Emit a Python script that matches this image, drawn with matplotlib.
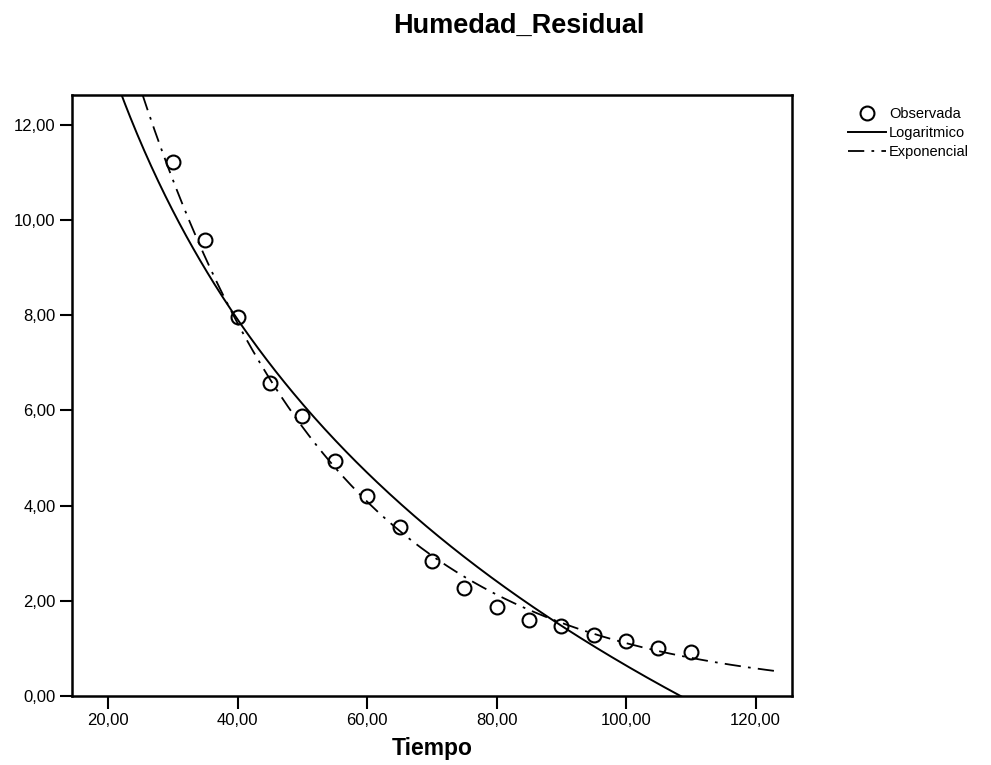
import numpy as np
import matplotlib
matplotlib.use("Agg")
import matplotlib.pyplot as plt
from matplotlib.ticker import FuncFormatter

plt.rcParams["font.family"] = ["Liberation Sans", "DejaVu Sans"]

tiempo = [30, 35, 40, 45, 50, 55, 60, 65, 70, 75, 80, 85, 90, 95, 100, 105, 110]
humedad = [11.22, 9.58, 7.96, 6.57, 5.87, 4.93, 4.19, 3.54, 2.84, 2.27, 1.87,
           1.60, 1.47, 1.28, 1.16, 1.01, 0.93]

x_ticks = [20, 40, 60, 80, 100, 120]
y_ticks = [0, 2, 4, 6, 8, 10, 12]

x = np.array(tiempo, dtype=float)
y = np.array(humedad, dtype=float)

# curve estimation: y = a + b*ln(x)  and  y = b0*exp(b1*x)
b_log, a_log = np.polyfit(np.log(x), y, 1)
b1_exp, ln_b0 = np.polyfit(x, np.log(y), 1)

xs = np.linspace(15, 123, 400)
y_log = a_log + b_log * np.log(xs)
y_exp = np.exp(ln_b0) * np.exp(b1_exp * xs)

fig = plt.figure(figsize=(9.91, 7.65), dpi=100)
ax = fig.add_axes([0.0727, 0.0902, 0.7263, 0.7856])

ax.plot(xs, y_log, color="black", lw=1.4, label="Logaritmico")
ax.plot(xs, y_exp, color="black", lw=1.3, dashes=(9, 4, 1.5, 4), label="Exponencial")
ax.plot(x, y, "o", mfc="none", mec="black", ms=10, mew=1.5, label="Observada",
        zorder=3)

ax.set_xlim(14.4, 125.6)
ax.set_ylim(0, 12.62)
ax.set_xticks(x_ticks)
ax.set_yticks(y_ticks)
fmt = FuncFormatter(lambda v, p: f"{v:.2f}".replace(".", ","))
ax.xaxis.set_major_formatter(fmt)
ax.yaxis.set_major_formatter(fmt)
ax.tick_params(direction="out", length=9, width=1.5, labelsize=12, pad=3)

for s in ax.spines.values():
    s.set_linewidth(1.8)

fig.text(0.524, 0.966, "Humedad_Residual", ha="center", va="center",
         fontsize=19.5, fontweight="bold")
fig.text(0.436, 0.022, "Tiempo", ha="center", va="center",
         fontsize=16.5, fontweight="bold")

h, l = ax.get_legend_handles_labels()
order = [2, 0, 1]
fig.legend([h[i] for i in order], [l[i] for i in order],
           loc="upper left", bbox_to_anchor=(0.850, 0.8675), frameon=False,
           fontsize=10.5, handlelength=2.6, handletextpad=0.2,
           labelspacing=0.35, borderaxespad=0)

fig.savefig("out.png", dpi=100)
